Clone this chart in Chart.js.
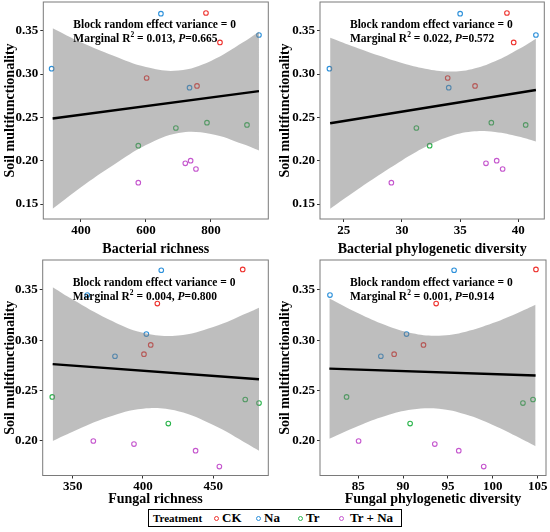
<!DOCTYPE html>
<html>
<head>
<meta charset="utf-8">
<script src="https://cdn.jsdelivr.net/npm/chart.js@4.4.0/dist/chart.umd.min.js"></script>
<style>
html,body{margin:0;padding:0;background:#fff;}
body{width:550px;height:532px;position:relative;overflow:hidden;font-family:"Liberation Serif","Times New Roman",serif;}
canvas{position:absolute;}
#legend{position:absolute;left:148px;top:509px;width:254px;height:18px;border:1px solid #000;box-sizing:border-box;font-weight:bold;z-index:5;background:#fff;}
#legend .t{position:absolute;top:0;line-height:16px;white-space:nowrap;color:#000;}
#legend .d{position:absolute;top:5.5px;width:3px;height:3px;border-radius:50%;border:1.1px solid;}
</style>
</head>
<body>
<canvas id="c1" width="275" height="260" style="left:0;top:0"></canvas>
<canvas id="c2" width="275" height="260" style="left:275px;top:0"></canvas>
<canvas id="c3" width="275" height="262" style="left:0;top:258px"></canvas>
<canvas id="c4" width="275" height="262" style="left:275px;top:258px"></canvas>
<div id="legend"></div>
<script>
// ---------------- DATA ----------------
const treatments = ['CK', 'Na', 'Tr', 'Tr + Na'];

// Soil multifunctionality (same samples in every panel)
const smfCK   = [0.3704, 0.3365, 0.2954, 0.2862];
const smfNa   = [0.3696, 0.3450, 0.3062, 0.2842];
const smfTr   = [0.2438, 0.2412, 0.2377, 0.2173];
const smfTrNa = [0.2000, 0.1969, 0.1904, 0.1746];

// Bacterial richness
const bRichCK   = [784.6, 827.7, 602.0, 757.0];
const bRichNa   = [646.0, 947.7, 309.7, 734.0];
const bRichTr   = [787.7, 910.8, 692.0, 576.4];
const bRichTrNa = [737.4, 721.0, 753.8, 576.4];

// Bacterial phylogenetic diversity
const bPdCK   = [39.02, 39.60, 33.93, 36.28];
const bPdNa   = [35.00, 41.51, 23.77, 34.02];
const bPdTr   = [37.68, 40.63, 31.24, 32.38];
const bPdTrNa = [38.14, 37.22, 38.65, 29.09];

// Fungal richness
const fRichCK   = [470.9, 410.2, 405.5, 400.7];
const fRichNa   = [413.0, 360.4, 402.4, 380.1];
const fRichTr   = [335.5, 472.7, 482.5, 418.0];
const fRichTrNa = [364.7, 393.6, 437.4, 454.3];

// Fungal phylogenetic diversity
const fPdCK   = [104.80, 93.68, 92.27, 89.00];
const fPdNa   = [95.68, 81.85, 90.38, 87.52];
const fPdTr   = [83.70, 104.47, 103.35, 90.78];
const fPdTrNa = [85.04, 93.53, 96.20, 98.98];

// Fitted lines (end points)
const fitX1 = [312.8, 947.7];  const fitY1 = [0.2487, 0.2803];
const fitX2 = [23.83, 41.51];  const fitY2 = [0.2432, 0.2815];
const fitX3 = [335.8, 482.5];  const fitY3 = [0.2764, 0.2613];
const fitX4 = [81.78, 104.76]; const fitY4 = [0.2719, 0.2651];

// Confidence bands
const bandX1 = [312.8, 400, 500, 600, 700, 800, 900, 947.7];
const bandUp1 = [0.3529, 0.3366, 0.3210, 0.3080, 0.3040, 0.3151, 0.3368, 0.3488];
const bandLo1 = [0.1445, 0.1694, 0.1950, 0.2180, 0.2320, 0.2309, 0.2190, 0.2118];

const bandX2 = [23.83, 26, 28, 30, 32, 34, 36, 38, 40, 41.51];
const bandUp2 = [0.3419, 0.3309, 0.3213, 0.3127, 0.3061, 0.3028, 0.3055, 0.3146, 0.3285, 0.3408];
const bandLo2 = [0.1445, 0.1649, 0.1831, 0.2003, 0.2157, 0.2276, 0.2337, 0.2332, 0.2279, 0.2222];

const bandX3 = [335.8, 350, 375, 400, 425, 450, 475, 482.5];
const bandUp3 = [0.3528, 0.3406, 0.3213, 0.3075, 0.3048, 0.3133, 0.3277, 0.3324];
const bandLo3 = [0.2000, 0.2092, 0.2235, 0.2321, 0.2296, 0.2159, 0.1965, 0.1902];

const bandX4 = [81.78, 85, 88, 91, 94, 97, 100, 103, 104.76];
const bandUp4 = [0.3416, 0.3269, 0.3152, 0.3070, 0.3046, 0.3086, 0.3171, 0.3282, 0.3354];
const bandLo4 = [0.2022, 0.2149, 0.2248, 0.2312, 0.2320, 0.2262, 0.2159, 0.2030, 0.1948];

// Tick labels
const xTicks1 = [400, 600, 800];
const xTicks2 = [25, 30, 35, 40];
const xTicks3 = [350, 400, 450];
const xTicks4 = [85, 90, 95, 100, 105];
const yTicksTop = [0.15, 0.20, 0.25, 0.30, 0.35];
const yTicksBottom = [0.20, 0.25, 0.30, 0.35];

// Axis titles and statistics
const xTitles = ['Bacterial richness', 'Bacterial phylogenetic diversity', 'Fungal richness', 'Fungal phylogenetic diversity'];
const yTitle = 'Soil multifunctionality';
const statLine1 = 'Block random effect variance = 0';
const r2Values = ['0.013', '0.022', '0.004', '0.001'];
const pValues = ['0.665', '0.572', '0.800', '0.914'];

// ---------------- STYLE ----------------
const FAMILY = "'Liberation Serif', 'Times New Roman', serif";
const colors = ['#EE3430', '#2C90DA', '#2DB54E', '#C557CE'];
const bandFill = 'rgba(125,125,125,0.5)';

const smf = [smfCK, smfNa, smfTr, smfTrNa];

const panelDefs = [
  {id:'c1', xs:[bRichCK,bRichNa,bRichTr,bRichTrNa], fitX:fitX1, fitY:fitY1, bX:bandX1, bU:bandUp1, bL:bandLo1,
   xTicks:xTicks1, yTicks:yTicksTop, xMin:284.1, xMax:976.4, yMin:0.1327, yMax:0.3831,
   pad:{left:0, top:2, right:6.7, bottom:0}, yW:43.3, xH:41, tickPad:1.2, titlePad:1.8},
  {id:'c2', xs:[bPdCK,bPdNa,bPdTr,bPdTrNa], fitX:fitX2, fitY:fitY2, bX:bandX2, bU:bandUp2, bL:bandLo2,
   xTicks:xTicks2, yTicks:yTicksTop, xMin:22.96, xMax:42.23, yMin:0.1327, yMax:0.3831,
   pad:{left:0, top:2, right:5.7, bottom:0}, yW:45, xH:41, tickPad:1.2, titlePad:1.8},
  {id:'c3', xs:[fRichCK,fRichNa,fRichTr,fRichTrNa], fitX:fitX3, fitY:fitY3, bX:bandX3, bU:bandUp3, bL:bandLo3,
   xTicks:xTicks3, yTicks:yTicksBottom, xMin:328.7, xMax:489.1, yMin:0.1657, yMax:0.3798,
   pad:{left:0, top:2, right:6.7, bottom:0}, yW:42.7, xH:44.5, tickPad:0, titlePad:12},
  {id:'c4', xs:[fPdCK,fPdNa,fPdTr,fPdTrNa], fitX:fitX4, fitY:fitY4, bX:bandX4, bU:bandUp4, bL:bandLo4,
   xTicks:xTicks4, yTicks:yTicksBottom, xMin:80.74, xMax:105.92, yMin:0.1657, yMax:0.3798,
   pad:{left:0, top:2, right:4, bottom:0}, yW:45, xH:44.5, tickPad:0, titlePad:12}
];

const frameAndText = {
  id: 'frameAndText',
  afterDatasetsDraw(chart, args, o) {
    const {ctx, chartArea: a} = chart;
    ctx.save();
    ctx.strokeStyle = '#7a7a7a';
    ctx.lineWidth = 1;
    ctx.strokeRect(a.left, a.top, a.right - a.left, a.bottom - a.top);
    ctx.fillStyle = '#000';
    ctx.textBaseline = 'middle';
    ctx.textAlign = 'left';
    const f = "bold 11.5px " + FAMILY;
    const x0 = a.left + o.dx;
    const y1 = a.top + o.dy1, y2 = a.top + o.dy2;
    ctx.font = f;
    ctx.fillText(statLine1, x0, y1);
    let cx = x0;
    const seg = (t, font, dy) => { ctx.font = font; ctx.fillText(t, cx, y2 + (dy || 0)); cx += ctx.measureText(t).width; };
    seg('Marginal R', f);
    seg('2', "bold 7.5px " + FAMILY, -4);
    seg(' = ' + o.r2 + ', ', f);
    seg('P', "italic bold 11.5px " + FAMILY);
    seg('=' + o.p, f);
    ctx.restore();
  }
};

const zeroPad = s => { s.paddingTop = 0; s.paddingBottom = 0; s.paddingLeft = 0; s.paddingRight = 0; };

panelDefs.forEach((p, k) => {
  const datasets = [
    {label:'fit', data: p.fitX.map((x, i) => ({x, y: p.fitY[i]})), borderColor:'#000', borderWidth:2.4,
     pointRadius:0, fill:false, tension:0, order:0},
    {label:'upper', data: p.bX.map((x, i) => ({x, y: p.bU[i]})), borderColor:'rgba(0,0,0,0)', borderWidth:0,
     pointRadius:0, fill:'+1', backgroundColor: bandFill, tension:0.4, order:1},
    {label:'lower', data: p.bX.map((x, i) => ({x, y: p.bL[i]})), borderColor:'rgba(0,0,0,0)', borderWidth:0,
     pointRadius:0, fill:false, tension:0.4, order:2}
  ];
  treatments.forEach((t, g) => {
    datasets.push({label:t, data: p.xs[g].map((x, i) => ({x, y: smf[g][i]})), showLine:false,
      pointRadius:2.3, pointBorderWidth:1.1, pointBackgroundColor:'rgba(0,0,0,0)', pointBorderColor:colors[g],
      pointHoverRadius:2.3, order:3});
  });
  const tickFont = {family: FAMILY, size: 13, weight: 'bold'};
  const titleFont = {family: FAMILY, size: 14, weight: 'bold'};
  const gridOpt = {display:true, drawOnChartArea:false, drawTicks:true, tickLength:3, color:'#333', lineWidth:1};
  new Chart(document.getElementById(p.id), {
    type: 'line',
    data: {datasets},
    options: {
      responsive:false, animation:false, events:[],
      layout:{padding:p.pad, autoPadding:false},
      plugins:{legend:{display:false}, tooltip:{enabled:false},
        frameAndText:{dx:30, dy1:23, dy2:37, r2:r2Values[k], p:pValues[k]}},
      scales:{
        x:{type:'linear', min:p.xMin, max:p.xMax,
          afterBuildTicks: s => { s.ticks = p.xTicks.map(v => ({value:v})); },
          afterFit: s => { s.height = p.xH; zeroPad(s); },
          grid:gridOpt, border:{display:false},
          ticks:{color:'#000', font:tickFont, padding:p.tickPad, maxRotation:0, minRotation:0, autoSkip:false, callback: v => String(v)},
          title:{display:true, text:xTitles[k], color:'#000', font:titleFont, padding:{top:0, bottom:p.titlePad}}},
        y:{type:'linear', min:p.yMin, max:p.yMax,
          afterBuildTicks: s => { s.ticks = p.yTicks.map(v => ({value:v})); },
          afterFit: s => { s.width = p.yW; zeroPad(s); },
          grid:gridOpt, border:{display:false},
          ticks:{color:'#000', font:tickFont, padding:2, autoSkip:false, callback: v => Number(v).toFixed(2)},
          title:{display:true, text:yTitle, color:'#000', font:titleFont, padding:{top:1.6, bottom:0}}}
      }
    },
    plugins:[frameAndText]
  });
});

// Legend
const legend = document.getElementById('legend');
const lt = document.createElement('span');
lt.className = 't'; lt.style.left = '4px'; lt.style.fontSize = '11px'; lt.textContent = 'Treatment';
legend.appendChild(lt);
const dotX = [64.5, 106.5, 148.5, 189.5];
const labX = [73, 115, 157, 201];
treatments.forEach((t, i) => {
  const d = document.createElement('span');
  d.className = 'd'; d.style.left = dotX[i] + 'px'; d.style.borderColor = colors[i];
  legend.appendChild(d);
  const s = document.createElement('span');
  s.className = 't'; s.style.left = labX[i] + 'px'; s.style.fontSize = '13px'; s.textContent = t;
  legend.appendChild(s);
});
</script>
</body>
</html>
